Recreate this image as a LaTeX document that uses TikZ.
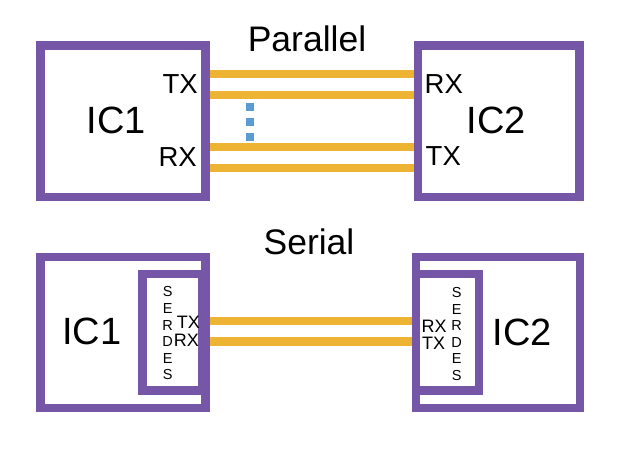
\documentclass[tikz,border=0pt]{standalone}
\usepackage{fontspec}
\setmainfont{Liberation Sans}
\definecolor{icpurple}{RGB}{118,86,166}
\definecolor{wireyellow}{RGB}{237,179,51}
\definecolor{dotblue}{RGB}{91,155,213}
\tikzset{
  icbox/.style={draw=icpurple, line width=8.5pt, rectangle, inner sep=0pt},
  wire/.style={draw=wireyellow, line width=8.5pt},
  dotsq/.style={fill=dotblue, rectangle, minimum size=8pt, inner sep=0pt},
  bigtxt/.style={font=\fontsize{38}{40}\selectfont, inner sep=0pt},
  titletxt/.style={font=\fontsize{35.5}{38}\selectfont, inner sep=0pt},
  ptxt/.style={font=\fontsize{27.5}{30}\selectfont, inner sep=0pt},
  stxt/.style={font=\fontsize{18}{20}\selectfont, inner sep=0pt},
  serdes/.style={font=\fontsize{14.5}{16.6}\selectfont, align=center, inner sep=0pt},
}
\begin{document}
\begin{tikzpicture}[x=1pt,y=-1pt]
\useasboundingbox (0,0) rectangle (624,458);
% ---------- Parallel ----------
\node[titletxt, anchor=base] (tpar) at (307,51.7) {Parallel};
\node[icbox, minimum width=165pt, minimum height=151.5pt] (ic1p) at (122.75,121) {};
\node[icbox, minimum width=161.5pt, minimum height=151.5pt] (ic2p) at (498.7,121) {};
\coordinate (r1) at (0,74.2);
\coordinate (r2) at (0,94.8);
\coordinate (r3) at (0,147.2);
\coordinate (r4) at (0,168);
\draw[wire] (ic1p.east |- r1) -- (ic2p.west |- r1);
\draw[wire] (ic1p.east |- r2) -- (ic2p.west |- r2);
\draw[wire] (ic1p.east |- r3) -- (ic2p.west |- r3);
\draw[wire] (ic1p.east |- r4) -- (ic2p.west |- r4);
\node[dotsq] (d1) at (249.5,106.5) {};
\node[dotsq] (d2) at (249.5,121.5) {};
\node[dotsq] (d3) at (249.5,136.5) {};
\node[bigtxt, anchor=base] (ic1plbl) at (116.5,133.3) {IC1};
\node[bigtxt, anchor=base] (ic2plbl) at (496.5,133.3) {IC2};
\node[ptxt, anchor=base east] (ptx1) at (198,93.3) {TX};
\node[ptxt, anchor=base east] (prx1) at (197,166.5) {RX};
\node[ptxt, anchor=base west] (prx2) at (424.5,93.3) {RX};
\node[ptxt, anchor=base west] (ptx2) at (425.5,165) {TX};
% ---------- Serial ----------
\node[titletxt, anchor=base] (tser) at (309,254) {Serial};
\node[icbox, minimum width=165pt, minimum height=150.75pt] (ic1s) at (122.75,332.6) {};
\node[icbox, minimum width=59.8pt, minimum height=116.7pt] (sd1) at (172.4,332.35) {};
\node[icbox, minimum width=163.75pt, minimum height=150.75pt] (ic2s) at (497.9,332.6) {};
\node[icbox, minimum width=63.2pt, minimum height=116.7pt] (sd2) at (447.6,332.35) {};
\coordinate (s1) at (0,320.8);
\coordinate (s2) at (0,341.5);
\draw[wire] (ic1s.east |- s1) -- (ic2s.west |- s1);
\draw[wire] (ic1s.east |- s2) -- (ic2s.west |- s2);
\node[bigtxt, anchor=base] (ic1slbl) at (91.7,344) {IC1};
\node[bigtxt, anchor=base] (ic2slbl) at (522,345) {IC2};
\node[serdes] (sdt1) at (167.7,333.5) {S\\E\\R\\D\\E\\S};
\node[serdes] (sdt2) at (456.7,334) {S\\E\\R\\D\\E\\S};
\node[stxt, anchor=base east] (stx1) at (200,328) {TX};
\node[stxt, anchor=base east] (srx1) at (199,346.7) {RX};
\node[stxt, anchor=base west] (srx2) at (421.5,332.5) {RX};
\node[stxt, anchor=base west] (stx2) at (422,349.5) {TX};
\end{tikzpicture}
\end{document}
